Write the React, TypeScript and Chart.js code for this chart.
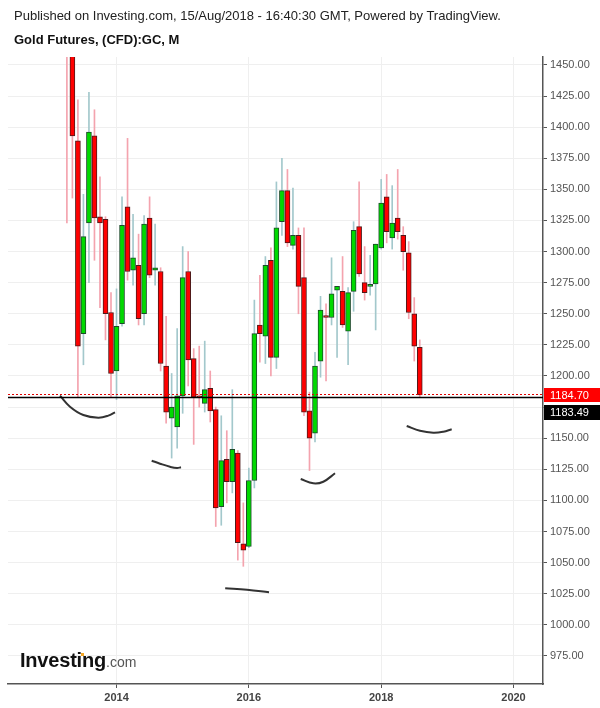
import React, { useEffect, useRef } from "react";
import { Chart, registerables } from "chart.js";

Chart.register(...registerables);

const FONT = "'Liberation Sans', Arial, Helvetica, sans-serif";

// Monthly candles, Gold Futures (CFD):GC
const months = [
  "2013-04", "2013-05", "2013-06", "2013-07", "2013-08", "2013-09", "2013-10", "2013-11", "2013-12",
  "2014-01", "2014-02", "2014-03", "2014-04", "2014-05", "2014-06", "2014-07", "2014-08", "2014-09", "2014-10", "2014-11", "2014-12",
  "2015-01", "2015-02", "2015-03", "2015-04", "2015-05", "2015-06", "2015-07", "2015-08", "2015-09", "2015-10", "2015-11", "2015-12",
  "2016-01", "2016-02", "2016-03", "2016-04", "2016-05", "2016-06", "2016-07", "2016-08", "2016-09", "2016-10", "2016-11", "2016-12",
  "2017-01", "2017-02", "2017-03", "2017-04", "2017-05", "2017-06", "2017-07", "2017-08", "2017-09", "2017-10", "2017-11", "2017-12",
  "2018-01", "2018-02", "2018-03", "2018-04", "2018-05", "2018-06", "2018-07", "2018-08",
];

const opens = [
  1597, 1476, 1389, 1234, 1323, 1393, 1328, 1326, 1251,
  1204, 1242, 1336, 1285, 1289, 1250, 1327, 1285, 1284, 1208, 1166, 1159,
  1184, 1284, 1214, 1184, 1178, 1190, 1173, 1095, 1133, 1115, 1138, 1065,
  1063, 1116, 1241, 1232, 1293, 1215, 1324, 1349, 1305, 1313, 1279, 1172,
  1154, 1212, 1248, 1247, 1269, 1268, 1236, 1268, 1320, 1275, 1272, 1274,
  1303, 1344, 1311, 1327, 1313, 1299, 1250, 1223,
];

const highs = [
  1605, 1488, 1422, 1346, 1428, 1414, 1360, 1328, 1267,
  1270, 1344, 1391, 1330, 1314, 1329, 1344, 1322, 1287, 1248, 1202, 1238,
  1304, 1300, 1222, 1224, 1228, 1204, 1175, 1168, 1156, 1189, 1140, 1098,
  1126, 1261, 1281, 1296, 1303, 1356, 1375, 1366, 1351, 1319, 1319, 1187,
  1219, 1264, 1258, 1295, 1272, 1296, 1271, 1324, 1356, 1304, 1297, 1306,
  1358, 1362, 1353, 1366, 1320, 1308, 1263, 1229,
];

const lows = [
  1323, 1343, 1183, 1209, 1275, 1293, 1255, 1229, 1183,
  1181, 1240, 1277, 1273, 1241, 1241, 1279, 1273, 1204, 1162, 1134, 1142,
  1170, 1192, 1145, 1175, 1171, 1163, 1079, 1080, 1098, 1106, 1052, 1047,
  1062, 1110, 1211, 1210, 1200, 1206, 1313, 1304, 1302, 1250, 1168, 1124,
  1147, 1199, 1196, 1241, 1215, 1239, 1209, 1252, 1280, 1261, 1265, 1237,
  1302, 1307, 1302, 1310, 1285, 1246, 1212, 1183,
];

const closes = [
  1476, 1393, 1224, 1312, 1396, 1327, 1323, 1250, 1202,
  1240, 1321, 1284, 1295, 1246, 1322, 1281, 1287, 1210, 1171, 1175, 1184,
  1279, 1213, 1183, 1182.5, 1189, 1172, 1094, 1132, 1115, 1141, 1066, 1060,
  1116, 1234, 1234, 1289, 1215, 1319, 1349, 1307, 1313, 1272, 1171, 1150,
  1208, 1253, 1247, 1266, 1272, 1241, 1267, 1317, 1282, 1267, 1273, 1306,
  1339, 1316, 1323, 1316, 1300, 1251, 1224, 1184.7,
];

const yTicks = [975, 1000, 1025, 1050, 1075, 1100, 1125, 1150, 1175, 1200, 1225, 1250, 1275, 1300, 1325, 1350, 1375, 1400, 1425, 1450];
const xTickValues = [0, 24, 48, 72]; // months since Jan 2014
const xTickLabels = ["2014", "2016", "2018", "2020"];

const lastPrice = 1184.7;
const prevClose = 1183.49;

// hand-drawn annotation strokes (x in months since Jan 2014, y in price)
const curve1X = [-10.25, -8.44, -6.02, -3.3, -1.49, -0.27];
const curve1Y = [1184.2, 1175.3, 1168.6, 1166.5, 1168.1, 1170.8];
const curve2X = [6.38, 7.89, 9.7, 10.97, 11.7];
const curve2Y = [1131.9, 1129.5, 1127.0, 1126.0, 1126.6];
const curve3X = [19.71, 23.67, 27.66];
const curve3Y = [1029.3, 1028.2, 1026.1];
const curve4X = [33.41, 35.69, 37.5, 39.63];
const curve4Y = [1117.2, 1113.7, 1115.0, 1121.8];
const curve5X = [52.63, 55.04, 57.45, 59.27, 60.79];
const curve5Y = [1159.8, 1156.0, 1154.4, 1155.2, 1157.2];

const UP = "#00d900";
const UP_BORDER = "#1d4a2a";
const DOWN = "#ff0000";
const DOWN_BORDER = "#4d1a1a";
const UP_WICK = "#a3c8cc";
const DOWN_WICK = "#f4a3ae";

const priceLinesPlugin = {
  id: "priceLines",
  afterDatasetsDraw(chart: any) {
    const { ctx, chartArea } = chart;
    const y = chart.scales.y;
    ctx.save();
    ctx.beginPath();
    ctx.rect(chartArea.left, chartArea.top, chartArea.right - chartArea.left, chartArea.bottom - chartArea.top);
    ctx.clip();
    const yb = Math.round(y.getPixelForValue(prevClose)) + 0.5;
    ctx.strokeStyle = "#000";
    ctx.lineWidth = 1.3;
    ctx.beginPath();
    ctx.moveTo(chartArea.left, yb);
    ctx.lineTo(chartArea.right, yb);
    ctx.stroke();
    const yr = Math.round(y.getPixelForValue(lastPrice)) - 0.5;
    ctx.strokeStyle = "#e00000";
    ctx.lineWidth = 1;
    ctx.setLineDash([2, 2]);
    ctx.beginPath();
    ctx.moveTo(chartArea.left, yr);
    ctx.lineTo(chartArea.right, yr);
    ctx.stroke();
    ctx.restore();
  },
  afterDraw(chart: any) {
    const { ctx, chartArea, width } = chart;
    const y = chart.scales.y;
    const left = chartArea.right + 1;
    const h = 14;
    const yr = y.getPixelForValue(lastPrice);
    const topR = Math.round(yr - h / 2);
    const topB = topR + h + 3;
    ctx.save();
    ctx.fillStyle = "#ffffff";
    ctx.fillRect(left, topR, width - left, topB + h + 1 - topR);
    ctx.font = `11px ${FONT}`;
    ctx.textBaseline = "middle";
    ctx.textAlign = "left";
    ctx.fillStyle = "#ff0000";
    ctx.fillRect(left, topR, width - left, h);
    ctx.fillStyle = "#ffffff";
    ctx.fillText(lastPrice.toFixed(2), 550, topR + h / 2 + 0.5);
    ctx.fillStyle = "#000000";
    ctx.fillRect(left, topB, width - left, h + 1);
    ctx.fillStyle = "#ffffff";
    ctx.fillText(prevClose.toFixed(2), 550, topB + (h + 1) / 2 + 0.5);
    ctx.restore();
  },
};

function curve(xs: number[], ys: number[]) {
  return {
    type: "line" as const,
    data: xs.map((x, i) => ({ x, y: ys[i] })),
    borderColor: "#333333",
    borderWidth: 2,
    pointRadius: 0,
    tension: 0.4,
    fill: false,
    order: 0,
    clip: 0,
  };
}

export default function App() {
  const ref = useRef<HTMLCanvasElement>(null);

  useEffect(() => {
    const canvas = ref.current;
    if (!canvas) return;
    const monthIdx = months.map((m) => (Number(m.slice(0, 4)) - 2014) * 12 + Number(m.slice(5)) - 1);
    const up = opens.map((o, i) => closes[i] >= o);

    const chart = new Chart(canvas, {
      type: "bar",
      data: {
        datasets: [
          curve(curve1X, curve1Y),
          curve(curve2X, curve2Y),
          curve(curve3X, curve3Y),
          curve(curve4X, curve4Y),
          curve(curve5X, curve5Y),
          {
            type: "bar",
            data: monthIdx.map((x, i) => ({ x, y: [opens[i], closes[i]] })),
            backgroundColor: up.map((u) => (u ? UP : DOWN)),
            borderColor: up.map((u) => (u ? UP_BORDER : DOWN_BORDER)),
            borderWidth: 1,
            borderSkipped: false,
            barThickness: 5,
            minBarLength: 2,
            grouped: false,
            order: 1,
            clip: 0,
          },
          {
            type: "bar",
            data: monthIdx.map((x, i) => ({ x, y: [lows[i], highs[i]] })),
            backgroundColor: up.map((u) => (u ? UP_WICK : DOWN_WICK)),
            borderWidth: 0,
            barThickness: 1,
            grouped: false,
            order: 2,
            clip: 0,
          },
        ] as any,
      },
      options: {
        animation: false,
        responsive: false,
        events: [],
        layout: { padding: { left: 8, top: 57, right: 0, bottom: 0 } },
        plugins: { legend: { display: false }, tooltip: { enabled: false } },
        scales: {
          x: {
            type: "linear",
            min: -19.68,
            max: 77.35,
            offset: false,
            grid: { color: "#efefef", offset: false, tickLength: 4, tickColor: "#555555" },
            border: { color: "#555555", width: 1.5 },
            afterBuildTicks: (s: any) => {
              s.ticks = xTickValues.map((v) => ({ value: v }));
            },
            afterFit: (s: any) => {
              s.height = 24;
            },
            ticks: {
              autoSkip: false,
              maxRotation: 0,
              padding: 3,
              color: "#444444",
              font: { family: FONT, size: 11, weight: "bold" },
              callback: (_v: any, i: number) => xTickLabels[i],
            },
          },
          y: {
            type: "linear",
            position: "right",
            min: 952.4,
            max: 1456.4,
            grid: { color: "#efefef", tickLength: 4, tickColor: "#555555" },
            border: { color: "#555555", width: 1.5 },
            afterBuildTicks: (s: any) => {
              s.ticks = yTicks.map((v) => ({ value: v }));
            },
            afterFit: (s: any) => {
              s.width = 57;
            },
            ticks: {
              autoSkip: false,
              padding: 3,
              color: "#555555",
              font: { family: FONT, size: 11 },
              callback: (v: any) => Number(v).toFixed(2),
            },
          },
        },
      } as any,
      plugins: [priceLinesPlugin],
    });
    return () => chart.destroy();
  }, []);

  return (
    <div style={{ position: "absolute", left: 0, top: 0, width: 600, height: 708, background: "#fff", overflow: "hidden" }}>
      <canvas ref={ref} width={600} height={708} style={{ position: "absolute", left: 0, top: 0 }} />
      <div style={{ position: "absolute", left: 14, top: 8, font: `13px/15px ${FONT}`, color: "#222", whiteSpace: "nowrap" }}>
        Published on Investing.com, 15/Aug/2018 - 16:40:30 GMT, Powered by TradingView.
      </div>
      <div style={{ position: "absolute", left: 14, top: 32, font: `bold 13px/15px ${FONT}`, color: "#111", whiteSpace: "nowrap" }}>
        Gold Futures, (CFD):GC, M
      </div>
      <div style={{ position: "absolute", left: 20, top: 650, font: `bold 20px/20px ${FONT}`, color: "#111", whiteSpace: "nowrap", letterSpacing: "-0.2px" }}>
        Investing<span style={{ font: `14px/20px ${FONT}`, color: "#555", letterSpacing: 0 }}>.com</span>
      </div>
      <div style={{ position: "absolute", left: 80.5, top: 652.5, width: 3.5, height: 3.5, background: "#f5a623" }} />
    </div>
  );
}
